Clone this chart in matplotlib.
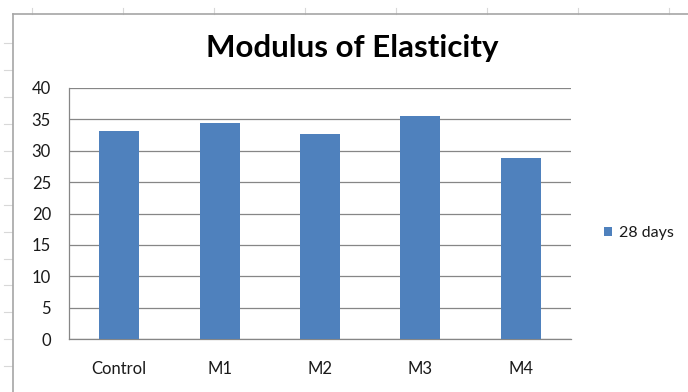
import matplotlib.pyplot as plt
from matplotlib.lines import Line2D

categories = ["Control", "M1", "M2", "M3", "M4"]
values_28_days = [33.1, 34.5, 32.7, 35.5, 28.9]
y_ticks = [0, 5, 10, 15, 20, 25, 30, 35, 40]
series_label = "28 days"
title = "Modulus of Elasticity"

plt.rcParams['font.family'] = ['Lato', 'DejaVu Sans']

W, H = 688, 392
fig = plt.figure(figsize=(W / 100, H / 100), dpi=100)
fig.patch.set_facecolor("white")

# worksheet cell markers outside the chart frame
for x in [32, 123, 214, 305, 396, 487, 578, 669]:
    fig.add_artist(Line2D([x / W, x / W], [1 - 8 / H, 1 - 14 / H],
                          color="#d8d8d8", lw=0.8))
for y in [43, 70, 97, 124, 151, 178, 205, 232, 259, 285, 312, 339, 366]:
    fig.add_artist(Line2D([4 / W, 12 / W], [1 - y / H, 1 - y / H],
                          color="#d8d8d8", lw=0.8))

# chart frame (left and top edges)
fig.add_artist(Line2D([12.5 / W, 12.5 / W], [0, 1 - 14 / H], color="#a6a6a6", lw=1.2))
fig.add_artist(Line2D([12.5 / W, 1], [1 - 14 / H, 1 - 14 / H], color="#a6a6a6", lw=1.2))

ax = fig.add_axes([69 / W, 1 - 339 / H, (571 - 69) / W, (339 - 88) / H])
x = range(len(categories))
bars = ax.bar(x, values_28_days, width=0.4, color="#4F81BD", label=series_label, zorder=3)

ax.set_xlim(-0.5, len(categories) - 0.5)
ax.set_ylim(0, 40)
ax.set_yticks(y_ticks)
ax.set_xticks(list(x))
ax.set_xticklabels(categories)
ax.tick_params(axis="both", length=0, labelsize=12, colors="#1a1a1a")
ax.tick_params(axis="y", pad=13)
ax.tick_params(axis="x", pad=16)
ax.yaxis.grid(True, color="#868686", lw=0.9, zorder=0)

for side in ["top", "right"]:
    ax.spines[side].set_visible(False)
for side in ["left", "bottom"]:
    ax.spines[side].set_color("#868686")
    ax.spines[side].set_linewidth(0.9)

fig.text(352 / W, 1 - 48 / H, title, ha="center", va="center",
         fontsize=22.5, fontweight="bold", color="black")

leg = ax.legend(loc="center left", bbox_to_anchor=(590 / W, 1 - 233 / H),
                bbox_transform=fig.transFigure, frameon=False,
                handlelength=0.45, handleheight=0.45, handletextpad=0.45,
                fontsize=11.5)
for t in leg.get_texts():
    t.set_color("#1a1a1a")

fig.savefig("out.png", dpi=100, facecolor="white")
